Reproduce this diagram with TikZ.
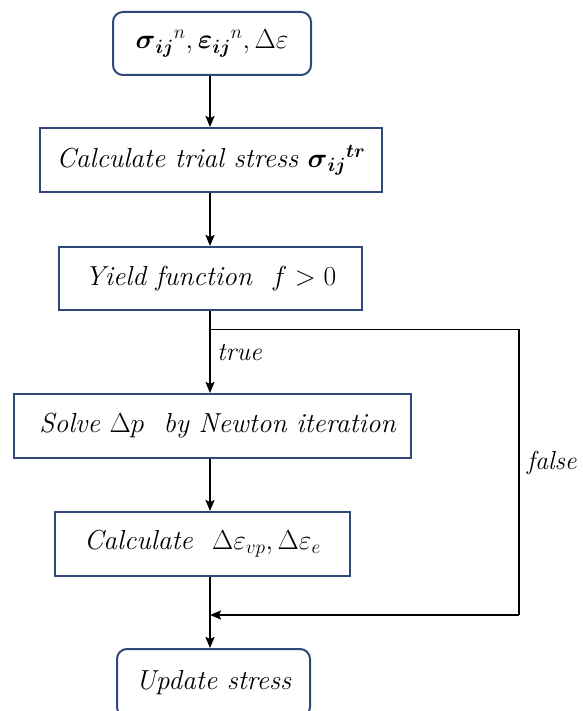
\RequirePackage{fix-cm}
\documentclass[tikz,border=0pt]{standalone}
\usepackage{amsmath}
\usetikzlibrary{arrows.meta}
\definecolor{boxblue}{RGB}{47,72,120}
\begin{document}
\begin{tikzpicture}[x=1pt,y=-1pt,
  box/.style={draw=boxblue,line width=2pt,minimum width=#1,inner sep=0pt,
    font=\fontsize{27.5}{32}\selectfont\itshape},
  rbox/.style={box=#1,rounded corners=10pt},
  conn/.style={line width=1.8pt,black},
  arr/.style={conn,-{Stealth[length=11pt,width=9pt,inset=2pt]}},
  lbl/.style={font=\fontsize{26}{28}\selectfont\itshape,inner sep=0pt}]
\useasboundingbox (0,0) rectangle (582,711);
\node[rbox=198pt,minimum height=63pt] (b1) at (212,43.5)
  {$\boldsymbol{\sigma}_{\boldsymbol{ij}}{}^{n}, \boldsymbol{\varepsilon}_{\boldsymbol{ij}}{}^{n}, \Delta\varepsilon$};
\node[box=342pt,minimum height=64pt] (b2) at (211,160)
  {Calculate trial stress $\boldsymbol{\sigma}_{\boldsymbol{ij}}{}^{\boldsymbol{tr}}$};
\node[box=303pt,minimum height=63pt] (b3) at (210.5,278.5)
  {Yield function \ $f>0$};
\node[box=397pt,minimum height=64pt] (b4) at (212.5,426)
  {\hspace{10pt}Solve $\Delta p$ \ by Newton iteration};
\node[box=295pt,minimum height=64pt] (b5) at (202.5,544)
  {Calculate \ $\Delta\varepsilon_{vp},\Delta\varepsilon_{e}$};
\node[rbox=193pt,minimum height=68pt] (b6) at (213.5,683) {Update stress};
\coordinate (X) at (210,0);
\coordinate (J) at (210,329.5);
\coordinate (R1) at (519,329.5);
\coordinate (R2) at (519,615);
\coordinate (M) at (210,615);
\draw[arr] (b1.south -| X) -- (b2.north -| X);
\draw[arr] (b2.south -| X) -- (b3.north -| X);
\draw[arr] (b3.south -| X) -- (b4.north -| X);
\draw[arr] (b4.south -| X) -- (b5.north -| X);
\draw[arr] (b5.south -| X) -- (b6.north -| X);
\draw[conn] (J) -- (R1) -- (R2);
\draw[arr] (R2) -- (M);
\node[lbl,anchor=west] (t) at (217,353) {true};
\node[lbl,anchor=west] (f) at (527,463) {false};
\end{tikzpicture}
\end{document}
